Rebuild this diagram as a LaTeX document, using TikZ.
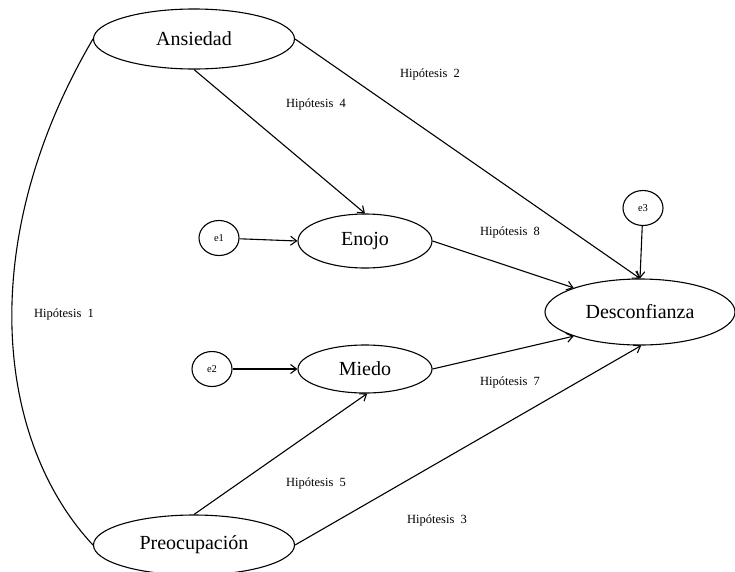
\documentclass[tikz,border=0pt]{standalone}
\usepackage{fontspec}
\setmainfont{Liberation Serif}
\usetikzlibrary{shapes.geometric,arrows.meta}
\begin{document}
\begin{tikzpicture}[x=1pt,y=-1pt,
  latent/.style={draw,ellipse,line width=1.1pt,inner sep=0pt,font=\fontsize{20}{23}\selectfont},
  errv/.style={draw,ellipse,line width=1.1pt,inner sep=0pt,minimum width=40pt,minimum height=35pt,font=\fontsize{10.5}{12}\selectfont},
  path/.style={line width=1.1pt,-{Straight Barb[length=6pt,width=9pt]}},
  hyp/.style={font=\fontsize{12.5}{14}\selectfont}]
\useasboundingbox (0,0) rectangle (735,571);
\node[latent,minimum width=201pt,minimum height=60pt] (ans) at (194,39) {Ansiedad};
\node[latent,minimum width=134pt,minimum height=54pt] (eno) at (365,241) {Enojo};
\node[latent,minimum width=134pt,minimum height=48pt] (mie) at (365,369) {Miedo};
\node[latent,minimum width=190pt,minimum height=66pt] (des) at (640,312) {Desconfianza};
\node[latent,minimum width=201pt,minimum height=60pt] (pre) at (194,545) {Preocupación};
\node[errv] (e1) at (219,238) {e1};
\node[errv] (e2) at (212,369) {e2};
\node[errv] (e3) at (643,208) {e3};
\draw[path] (ans.east) -- (des.north);
\draw[path] (ans.south) -- (eno.north);
\draw[path] (e1) -- (eno.west);
\draw[path] (e2) -- (mie.west);
\draw[path] (e3) -- (des.north);
\draw[path] (eno.east) -- (des.160);
\draw[path] (mie.east) -- (des.200);
\draw[path] (pre.north) -- (mie.-85);
\draw[path] (pre.east) -- (des.-88);
\draw[line width=1.1pt] (ans.west) .. controls (-25,240) and (-5,440) .. (pre.west);
\node[hyp] (h2) at (430,74) {Hipótesis\ \ 2};
\node[hyp] (h4) at (316,104) {Hipótesis\ \ 4};
\node[hyp] (h8) at (510,232) {Hipótesis\ \ 8};
\node[hyp] (h1) at (64,314) {Hipótesis\ \ 1};
\node[hyp] (h7) at (510,382) {Hipótesis\ \ 7};
\node[hyp] (h5) at (316,483) {Hipótesis\ \ 5};
\node[hyp] (h3) at (437,520) {Hipótesis\ \ 3};
\end{tikzpicture}
\end{document}
